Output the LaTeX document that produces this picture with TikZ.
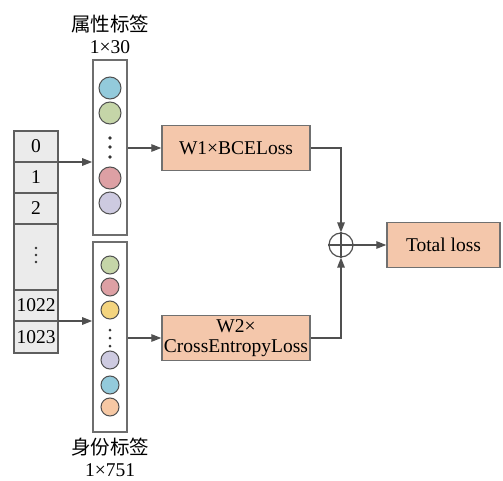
\documentclass[tikz,border=0pt]{standalone}
\usepackage{fontspec}
\setmainfont{Liberation Serif}
\newfontfamily\cjk{Noto Sans CJK SC}
\usepackage{xcolor}
\usetikzlibrary{arrows.meta,positioning}
\definecolor{lossfill}{HTML}{F4C7AB}
\definecolor{boxline}{HTML}{707070}
\definecolor{cellfill}{HTML}{EBEBEB}
\definecolor{cellline}{HTML}{5E5E5E}
\definecolor{colline}{HTML}{6E6E6E}
\definecolor{arrline}{HTML}{505050}
\definecolor{ballline}{HTML}{505050}
\definecolor{ballblue}{HTML}{93CADB}
\definecolor{ballgreen}{HTML}{C5D5A8}
\definecolor{ballpink}{HTML}{DDA0A4}
\definecolor{ballpurple}{HTML}{CDCAE0}
\definecolor{ballyellow}{HTML}{F3D47F}
\definecolor{ballorange}{HTML}{F6C8A4}

\begin{document}
\begin{tikzpicture}[
  x=1pt, y=-1pt,
  every node/.style={font=\fontsize{19.5}{22}\selectfont},
  cell/.style={draw=cellline, line width=1.8pt, fill=cellfill, minimum width=44pt,
               minimum height=31pt, inner sep=0pt, outer sep=0pt},
  labcol/.style={draw=colline, line width=1.6pt, fill=white, minimum width=34pt, inner sep=0pt},
  ball/.style={draw=ballline, line width=1pt, circle, inner sep=0pt},
  lossbox/.style={draw=boxline, line width=1.4pt, fill=lossfill, minimum height=45pt,
                  inner sep=0pt, align=center},
  arr/.style={-{Triangle[length=10pt,width=7.5pt]}, line width=1.3pt, draw=arrline},
]
\useasboundingbox (0,0) rectangle (503,481);

% Feature vector
\node[cell] (c0) at (36,146.5) {0};
\node[cell, below=0pt of c0] (c1) {1};
\node[cell, below=0pt of c1] (c2) {2};
\node[cell, below=0pt of c2, minimum height=66pt] (cdots) {};
\node[cell, below=0pt of cdots] (c1022) {1022};
\node[cell, below=0pt of c1022, minimum height=32pt] (c1023) {1023};
\foreach \y in {248,255,262}
  \fill[black!80] (36,\y) circle (1.3pt);

% Attribute labels
\node[labcol, minimum height=175pt] (attr) at (110,147.5) {};
\node[ball, fill=ballblue, minimum size=22pt] (a1) at (110,88) {};
\node[ball, fill=ballgreen, minimum size=22pt] (a2) at (110,113) {};
\node[ball, fill=ballpink, minimum size=22pt] (a3) at (110,178) {};
\node[ball, fill=ballpurple, minimum size=22pt] (a4) at (110,203) {};
\foreach \y in {138,147,157}
  \fill[black!80] (110,\y) circle (1.8pt);
\node[align=center, above=2pt of attr] (attrlbl) {{\cjk 属性标签}\\1×30};

% Identity labels
\node[labcol, minimum height=190pt] (ident) at (110,337) {};
\node[ball, fill=ballgreen, minimum size=18pt] (b1) at (110,265) {};
\node[ball, fill=ballpink, minimum size=18pt] (b2) at (110,287) {};
\node[ball, fill=ballyellow, minimum size=18pt] (b3) at (110,310) {};
\node[ball, fill=ballpurple, minimum size=18pt] (b4) at (110,360) {};
\node[ball, fill=ballblue, minimum size=18pt] (b5) at (110,385) {};
\node[ball, fill=ballorange, minimum size=18pt] (b6) at (110,407) {};
\foreach \y in {330,338,346}
  \fill[black!80] (110,\y) circle (1.5pt);
\node[align=center, below=2pt of ident] (identlbl) {{\cjk 身份标签}\\1×751};

% Losses
\node[lossbox, minimum width=148pt] (w1) at (236,148) {W1×BCELoss};
\node[lossbox, minimum width=148pt, font=\fontsize{19.5}{20}\selectfont] (w2) at (236,338)
  {W2×\\CrossEntropyLoss};
\node[draw=arrline, circle, line width=1.2pt, minimum size=24pt, inner sep=0pt] (sum) at (341,245) {};
\draw[arrline, line width=1.2pt] (sum.north) -- (sum.south) (sum.west) -- (sum.east);
\node[lossbox, minimum width=113pt] (total) at (443.5,245) {Total loss};

% Arrows
\draw[arr] (c0.south east) -- (c0.south east -| attr.west);
\draw[arr] (c1022.south east) -- (c1022.south east -| ident.west);
\draw[arr] (attr.east |- w1.west) -- (w1.west);
\draw[arr] (ident.east |- w2.west) -- (w2.west);
\draw[arr] (w1.east) -| (sum.north);
\draw[arr] (w2.east) -| (sum.south);
\draw[arr] (sum.east) -- (total.west);
\end{tikzpicture}
\end{document}
